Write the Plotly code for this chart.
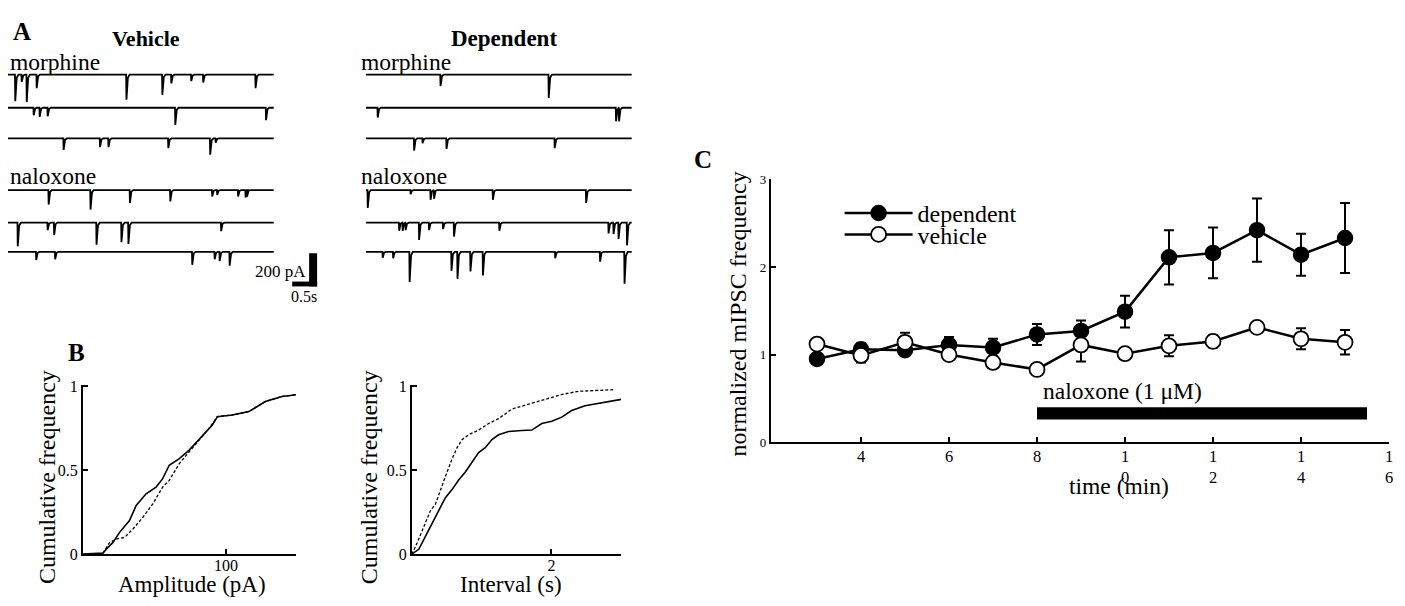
import plotly.graph_objects as go

W, H = 1405, 606
FONT = "Liberation Serif"

# ---------------- Panel A: miniature IPSC events (time s, amplitude pA) ----------------
veh_morphine_t = [[0.14, 0.27, 0.37, 0.57, 2.37, 3.09, 3.27, 3.67, 3.91, 4.96],
                  [0.51, 0.63, 0.79, 3.35, 5.17],
                  [1.11, 1.84, 2.01, 3.21, 4.05, 4.16]]
veh_morphine_amp = [[161, 43, 165, 82, 151, 122, 53, 39, 47, 82],
                    [45, 55, 51, 104, 75],
                    [69, 53, 53, 59, 98, 25]]
veh_naloxone_t = [[0.81, 1.65, 2.44, 3.25, 4.09, 4.19, 4.61, 4.76, 4.79],
                  [0.19, 0.79, 0.92, 1.77, 2.27, 2.41, 4.27],
                  [0.56, 0.94, 3.69, 4.14, 4.24, 4.44]]
veh_naloxone_amp = [[88, 118, 78, 69, 39, 29, 39, 45, 39],
                    [143, 45, 75, 133, 118, 129, 51],
                    [49, 45, 78, 45, 55, 84]]
dep_morphine_t = [[1.49, 3.66],
                  [0.23, 5.01, 5.07],
                  [0.96, 1.13, 1.61, 3.78]]
dep_morphine_amp = [[69, 141],
                    [59, 82, 82],
                    [73, 29, 63, 59]]
dep_naloxone_t = [[0.03, 0.89, 1.29, 1.36, 2.54, 4.41],
                  [0.66, 0.73, 0.79, 1.06, 1.26, 1.54, 1.76, 2.67, 4.86, 4.96, 5.06, 5.23],
                  [0.33, 0.54, 0.87, 1.71, 1.83, 2.09, 2.34, 3.79, 4.69, 5.18]]
dep_naloxone_amp = [[108, 25, 59, 53, 59, 78],
                    [49, 49, 45, 104, 45, 39, 84, 49, 65, 69, 98, 137],
                    [35, 39, 182, 114, 163, 118, 143, 39, 59, 192]]
SWEEP_LEN_S = 5.33
SCALE_PA = 200
SCALE_S = 0.5

# ---------------- Panel B: cumulative distributions ----------------
amp_solid_x = [0, 14.1, 16.4, 21.1, 25.7, 32.6, 37.3, 44.2, 51.2, 55.8, 60.4, 67.4, 74.3,
               83.6, 90.5, 94.0, 104.4, 116.0, 127.5, 139.1, 149]
amp_solid_y = [0, 0.006, 0.03, 0.07, 0.13, 0.20, 0.29, 0.36, 0.40, 0.45, 0.53, 0.57, 0.62,
               0.71, 0.77, 0.82, 0.83, 0.85, 0.91, 0.94, 0.95]
amp_dash_x = [14.1, 18.8, 23.4, 29.2, 35.0, 42.0, 48.9, 55.8, 60.4, 67.4, 74.3, 81.3, 88.2,
              94.0, 104.4, 116.0, 127.5, 139.1, 149]
amp_dash_y = [0.006, 0.07, 0.09, 0.10, 0.15, 0.22, 0.30, 0.40, 0.44, 0.54, 0.61, 0.68, 0.75,
              0.82, 0.83, 0.85, 0.91, 0.94, 0.95]
int_solid_x = [0, 0.100, 0.195, 0.290, 0.386, 0.481, 0.576, 0.671, 0.767, 0.862, 0.957, 1.052,
               1.148, 1.243, 1.386, 1.576, 1.719, 1.862, 2.005, 2.148, 2.290, 2.481, 2.719, 3.0]
int_solid_y = [0, 0.029, 0.106, 0.183, 0.26, 0.337, 0.385, 0.442, 0.49, 0.548, 0.606, 0.635,
               0.683, 0.712, 0.731, 0.737, 0.74, 0.779, 0.792, 0.817, 0.856, 0.885, 0.904, 0.923]
int_dash_x = [0, 0.076, 0.171, 0.267, 0.338, 0.433, 0.505, 0.576, 0.648, 0.719, 0.814, 0.957,
              1.100, 1.243, 1.433, 1.671, 1.910, 2.148, 2.386, 2.624, 2.910]
int_dash_y = [0, 0.067, 0.163, 0.26, 0.298, 0.413, 0.49, 0.567, 0.635, 0.683, 0.712, 0.74,
              0.779, 0.808, 0.865, 0.894, 0.923, 0.952, 0.971, 0.975, 0.981]

# ---------------- Panel C: normalized mIPSC frequency ----------------
time_min = [3, 4, 5, 6, 7, 8, 9, 10, 11, 12, 13, 14, 15]
dep_mean = [0.95, 1.06, 1.05, 1.11, 1.08, 1.23, 1.27, 1.49, 2.11, 2.16, 2.42, 2.14, 2.33]
dep_sem = [0.04, 0.07, 0.05, 0.09, 0.10, 0.12, 0.12, 0.18, 0.31, 0.29, 0.36, 0.24, 0.40]
veh_mean = [1.12, 0.99, 1.14, 1.00, 0.91, 0.83, 1.11, 1.01, 1.10, 1.15, 1.31, 1.18, 1.14]
veh_sem = [0.03, 0.08, 0.11, 0.04, 0.04, 0.04, 0.19, 0.04, 0.12, 0.07, 0.04, 0.12, 0.14]
naloxone_start, naloxone_end = 8, 15.5
c_xticks = [4, 6, 8, 10, 12, 14, 16]
c_xticktext = ["4", "6", "8", "1<br>0", "1<br>2", "1<br>4", "1<br>6"]


def px(x):
    return x / W


def py(y):
    return 1 - y / H


fig = go.Figure()

# ---- Panel A layout constants (px -> data) ----
A_PX_PER_S = 50.0
A_PX_PER_PA = 0.17
A_LEFT, A_RIGHT, A_TOP, A_BOT = 8, 640, 60, 300
A_BASE0 = 69.5
sweep_py = [69.5, 103.5, 135, 188, 221.5, 251.5]
sweep_off = [-(p - A_BASE0) / A_PX_PER_PA for p in sweep_py]
col_x0 = [0.0, (367 - A_LEFT) / A_PX_PER_S]


def sweep_xy(x0, off, times, amps):
    xs, ys = [x0], [off]
    for t, a in sorted(zip(times, amps)):
        xs += [x0 + t, x0 + t + 0.006, x0 + t + 0.035, x0 + t + 0.07]
        ys += [off, off - a, off - 0.12 * a, off]
    xs.append(x0 + SWEEP_LEN_S)
    ys.append(off)
    return xs, ys


groups = [(0, veh_morphine_t + veh_naloxone_t, veh_morphine_amp + veh_naloxone_amp),
          (1, dep_morphine_t + dep_naloxone_t, dep_morphine_amp + dep_naloxone_amp)]
for col, tl, al in groups:
    for i, (t, a) in enumerate(zip(tl, al)):
        xs, ys = sweep_xy(col_x0[col], sweep_off[i], t, a)
        fig.add_trace(go.Scatter(x=xs, y=ys, mode="lines", line=dict(color="black", width=1.8),
                                 showlegend=False, hoverinfo="skip", xaxis="x", yaxis="y"))

a_yrange = [-(A_BOT - A_BASE0) / A_PX_PER_PA, (A_BASE0 - A_TOP) / A_PX_PER_PA]

# scale bar (200 pA, 0.5 s)
sb_right = (318 - A_LEFT) / A_PX_PER_S
sb_bottom = -(287 - A_BASE0) / A_PX_PER_PA
fig.add_shape(type="rect", xref="x", yref="y", x0=sb_right - 8 / A_PX_PER_S, x1=sb_right,
              y0=sb_bottom, y1=sb_bottom + SCALE_PA, fillcolor="black", line_width=0)
fig.add_shape(type="rect", xref="x", yref="y", x0=sb_right - SCALE_S, x1=sb_right,
              y0=sb_bottom, y1=sb_bottom + 5 / A_PX_PER_PA, fillcolor="black", line_width=0)

# ---- Panel B ----
fig.add_trace(go.Scatter(x=amp_solid_x, y=amp_solid_y, mode="lines", line=dict(color="black", width=1.6),
                         showlegend=False, hoverinfo="skip", xaxis="x2", yaxis="y2"))
fig.add_trace(go.Scatter(x=amp_dash_x, y=amp_dash_y, mode="lines",
                         line=dict(color="black", width=1.3, dash="3px,2px"),
                         showlegend=False, hoverinfo="skip", xaxis="x2", yaxis="y2"))
fig.add_trace(go.Scatter(x=int_solid_x, y=int_solid_y, mode="lines", line=dict(color="black", width=1.6),
                         showlegend=False, hoverinfo="skip", xaxis="x3", yaxis="y3"))
fig.add_trace(go.Scatter(x=int_dash_x, y=int_dash_y, mode="lines",
                         line=dict(color="black", width=1.3, dash="3px,2px"),
                         showlegend=False, hoverinfo="skip", xaxis="x3", yaxis="y3"))

# ---- Panel C ----
fig.add_trace(go.Scatter(x=time_min, y=dep_mean, name="dependent", mode="lines+markers",
                         line=dict(color="black", width=2.5),
                         marker=dict(symbol="circle", size=15, color="black", line=dict(color="black", width=1.5)),
                         error_y=dict(type="data", array=dep_sem, color="black", thickness=2, width=5),
                         xaxis="x4", yaxis="y4", legend="legend"))
fig.add_trace(go.Scatter(x=time_min, y=veh_mean, name="vehicle", mode="lines+markers",
                         line=dict(color="black", width=2.5),
                         marker=dict(symbol="circle", size=15, color="white", line=dict(color="black", width=1.8)),
                         error_y=dict(type="data", array=veh_sem, color="black", thickness=2, width=5),
                         xaxis="x4", yaxis="y4", legend="legend2"))
fig.add_shape(type="rect", xref="x4", yref="y4", x0=naloxone_start, x1=naloxone_end, y0=0.26, y1=0.40,
              fillcolor="black", line_width=0)

axis_common = dict(showline=True, linecolor="black", showgrid=False, zeroline=False,
                   ticks="inside", tickcolor="black", ticklen=5,
                   tickfont=dict(family=FONT, size=16, color="black"))

legend_common = dict(xanchor="left", yanchor="middle",
                     font=dict(family=FONT, size=24, color="black"),
                     bgcolor="rgba(0,0,0,0)", itemwidth=68, tracegroupgap=0)

fig.update_layout(
    width=W, height=H, autosize=False,
    margin=dict(l=0, r=0, t=0, b=0),
    paper_bgcolor="white", plot_bgcolor="rgba(0,0,0,0)",
    font=dict(family=FONT, color="black"),
    showlegend=True,
    legend=dict(x=px(842), y=py(212), **legend_common),
    legend2=dict(x=px(842), y=py(234), **legend_common),
    xaxis=dict(domain=[px(A_LEFT), px(A_RIGHT)], range=[0, (A_RIGHT - A_LEFT) / A_PX_PER_S],
               visible=False, anchor="y"),
    yaxis=dict(domain=[py(A_BOT), py(A_TOP)], range=a_yrange, visible=False, anchor="x"),
    xaxis2=dict(domain=[px(83), px(297)], range=[0, 149], tickvals=[100], ticktext=["100"],
                anchor="y2", linewidth=1.5, tickwidth=1.5, ticklabelstandoff=-4, **axis_common),
    yaxis2=dict(domain=[py(562), py(388)], range=[0, 1.01], tickvals=[0, 0.5, 1],
                ticktext=["0", "0.5", "1"], anchor="x2", linewidth=1.5, tickwidth=1.5, **axis_common),
    xaxis3=dict(domain=[px(413), px(623)], range=[0, 3.0], tickvals=[2], ticktext=["2"],
                anchor="y3", linewidth=1.5, tickwidth=1.5, ticklabelstandoff=-4, **axis_common),
    yaxis3=dict(domain=[py(562), py(388)], range=[0, 1.01], tickvals=[0, 0.5, 1],
                ticktext=["0", "0.5", "1"], anchor="x3", linewidth=1.5, tickwidth=1.5, **axis_common),
    xaxis4=dict(domain=[px(773), px(1393)], range=[1.95, 16], tickvals=c_xticks, ticktext=c_xticktext,
                anchor="y4", linewidth=2, tickwidth=2, ticklabelstandoff=-2,
                **{**axis_common, "tickfont": dict(family=FONT, size=16.5, color="black")}),
    yaxis4=dict(domain=[py(447), py(177)], range=[0, 3], tickvals=[0, 1, 2, 3],
                anchor="x4", linewidth=2, tickwidth=2,
                **{**axis_common, "tickfont": dict(family=FONT, size=13, color="black")}),
)


def ann(text, x, y, size, bold=False, xanchor="center", yanchor="middle", angle=0):
    if bold:
        text = "<b>" + text + "</b>"
    fig.add_annotation(text=text, x=px(x), y=py(y), xref="paper", yref="paper",
                       xanchor=xanchor, yanchor=yanchor, textangle=angle, showarrow=False,
                       font=dict(family=FONT, size=size, color="black"))


# Panel A texts
ann("A", 22, 25, 25, bold=True)
ann("Vehicle", 146, 32, 22, bold=True)
ann("Dependent", 505, 32, 23, bold=True)
ann("morphine", 8, 56, 23.5, xanchor="left")
ann("naloxone", 8, 174, 23.5, xanchor="left")
ann("morphine", 360, 56, 23.5, xanchor="left")
ann("naloxone", 360, 174, 23.5, xanchor="left")
ann("200 pA", 309, 272, 17, xanchor="right")
ann("0.5s", 305, 297, 16)

# Panel B texts
ann("B", 77, 355, 25, bold=True)
ann("Cumulative frequency", 47, 483, 24, angle=-90)
ann("Cumulative frequency", 370, 483, 24, angle=-90)
ann("Amplitude (pA)", 193, 593, 23)
ann("Interval (s)", 512, 593, 23)

# Panel C texts
ann("C", 705, 157, 25, bold=True)
ann("normalized mIPSC frequency", 740, 315, 24, angle=-90)
ann("time (min)", 1122, 492, 23.5)
fig.add_annotation(text="naloxone (1 \u03bcM)", x=naloxone_start, y=0.58, xref="x4", yref="y4",
                   xanchor="left", yanchor="middle", showarrow=False, xshift=4,
                   font=dict(family=FONT, size=23.5, color="black"))

fig.write_html("out.html", config={"displayModeBar": False},
               post_script="document.body.style.margin='0px';document.body.style.overflow='hidden';")
